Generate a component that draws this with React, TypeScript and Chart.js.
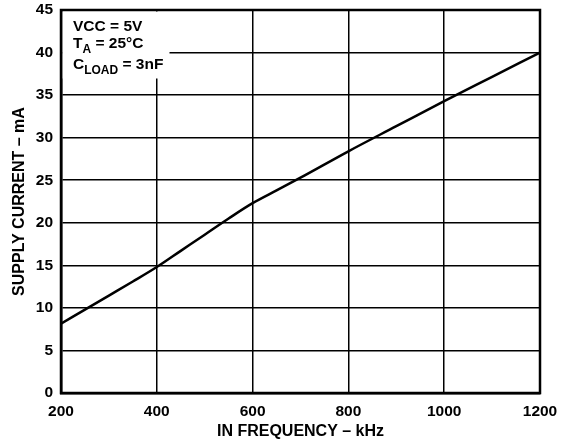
import React, { useEffect, useRef } from "react";
import { Chart, registerables } from "chart.js";

Chart.register(...registerables);

const frequencyKHz = [200, 250, 300, 350, 400, 450, 500, 550, 600, 650, 700, 800, 900, 1000, 1100, 1200];
const supplyCurrentMA = [8.15, 9.8, 11.45, 13.1, 14.8, 16.7, 18.6, 20.5, 22.3, 23.8, 25.3, 28.4, 31.35, 34.3, 37.15, 40.0];
const xTickValues = [200, 400, 600, 800, 1000, 1200];
const yTickValues = [0, 5, 10, 15, 20, 25, 30, 35, 40, 45];
const xTitle = "IN FREQUENCY – kHz";
const yTitle = "SUPPLY CURRENT – mA";
const conditionLines = [
  { main: "VCC = 5V", sub: "", rest: "" },
  { main: "T", sub: "A", rest: " = 25°C" },
  { main: "C", sub: "LOAD", rest: " = 3nF" },
];

const FAMILY = '"Liberation Sans", Arial, Helvetica, sans-serif';

export default function App() {
  const ref = useRef<HTMLCanvasElement>(null);

  useEffect(() => {
    if (!ref.current) return;

    const annotation = {
      id: "conditions",
      beforeDatasetsDraw(chart: any) {
        const { ctx, chartArea } = chart;
        ctx.save();
        ctx.fillStyle = "#fff";
        ctx.fillRect(chartArea.left + 1.5, chartArea.top + 1.5, 107, 67);
        ctx.fillStyle = "#000";
        ctx.textBaseline = "alphabetic";
        ctx.textAlign = "left";
        const baselines = [21, 38, 59];
        conditionLines.forEach((line, i) => {
          let x = chartArea.left + 12;
          const y = chartArea.top + baselines[i];
          ctx.font = `bold 15.5px ${FAMILY}`;
          ctx.fillText(line.main, x, y);
          x += ctx.measureText(line.main).width;
          if (line.sub) {
            ctx.font = `bold 12px ${FAMILY}`;
            ctx.fillText(line.sub, x, y + 5);
            x += ctx.measureText(line.sub).width;
            ctx.font = `bold 15.5px ${FAMILY}`;
            ctx.fillText(line.rest, x, y);
          }
        });
        ctx.restore();
      },
    };

    const frame = {
      id: "frame",
      afterDraw(chart: any) {
        const { ctx, chartArea } = chart;
        ctx.save();
        ctx.strokeStyle = "#000";
        ctx.lineWidth = 2.5;
        ctx.strokeRect(
          chartArea.left,
          chartArea.top,
          chartArea.right - chartArea.left,
          chartArea.bottom - chartArea.top
        );
        ctx.restore();
      },
    };

    const tickFont = { family: FAMILY, size: 15.5, weight: "bold" as const };
    const titleFont = { family: FAMILY, size: 16, weight: "bold" as const };

    const chart = new Chart(ref.current, {
      type: "line",
      data: {
        datasets: [
          {
            data: frequencyKHz.map((x, i) => ({ x, y: supplyCurrentMA[i] })),
            borderColor: "#000",
            borderWidth: 2.5,
            pointRadius: 0,
            cubicInterpolationMode: "monotone",
            fill: false,
          },
        ],
      },
      options: {
        animation: false,
        responsive: false,
        maintainAspectRatio: false,
        events: [],
        plugins: { legend: { display: false }, tooltip: { enabled: false } },
        layout: { padding: { top: 10, right: 28, left: 0, bottom: 0 } },
        scales: {
          x: {
            type: "linear",
            min: 200,
            max: 1200,
            afterBuildTicks: (s: any) => {
              s.ticks = xTickValues.map((v) => ({ value: v }));
            },
            afterFit: (s: any) => {
              s.height = 53;
              s.paddingLeft = 0;
              s.paddingRight = 0;
            },
            grid: { color: "#000", lineWidth: 1.5, drawTicks: false },
            border: { color: "#000", width: 2.5 },
            ticks: {
              color: "#000",
              font: tickFont,
              padding: 9,
              maxRotation: 0,
              autoSkip: false,
              callback: (v: any) => String(v),
            },
            title: {
              display: true,
              text: xTitle,
              color: "#000",
              font: titleFont,
              padding: { top: 0, bottom: 5 },
            },
          },
          y: {
            type: "linear",
            min: 0,
            max: 45,
            afterBuildTicks: (s: any) => {
              s.ticks = yTickValues.map((v) => ({ value: v }));
            },
            afterFit: (s: any) => {
              s.width = 61;
              s.paddingTop = 0;
              s.paddingBottom = 0;
            },
            grid: { color: "#000", lineWidth: 1.5, drawTicks: false },
            border: { color: "#000", width: 2.5 },
            ticks: {
              color: "#000",
              font: tickFont,
              padding: 8,
              autoSkip: false,
              callback: (v: any) => String(v),
            },
            title: {
              display: true,
              text: yTitle,
              color: "#000",
              font: titleFont,
              padding: { top: 10, bottom: 0 },
            },
          },
        },
      },
      plugins: [annotation, frame],
    } as any);

    return () => chart.destroy();
  }, []);

  return (
    <div style={{ position: "fixed", left: 0, top: 0, width: 568, height: 446, background: "#fff" }}>
      <canvas ref={ref} width={568} height={446} style={{ display: "block" }} />
    </div>
  );
}
